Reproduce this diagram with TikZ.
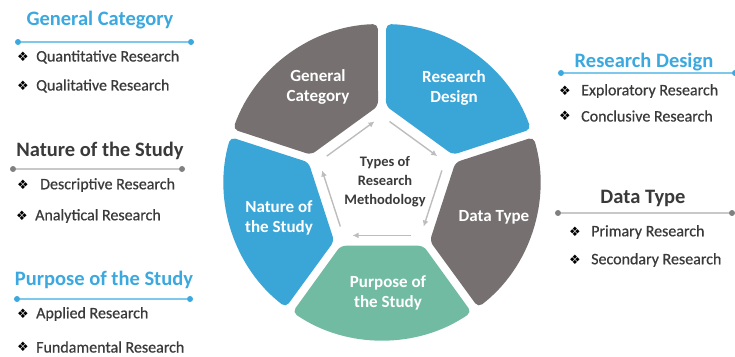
\documentclass[tikz,border=0pt]{standalone}
\usepackage{fontspec}
\setmainfont{Carlito}
\newfontfamily\symfont{DejaVu Sans}
\newfontfamily\itemfont[FakeBold=0.6]{Carlito}
\usetikzlibrary{calc,arrows.meta}
\definecolor{hblue}{HTML}{3BA8DF}
\definecolor{segblue}{HTML}{3AA6D8}
\definecolor{seggray}{HTML}{767070}
\definecolor{seggreen}{HTML}{72BBA3}
\definecolor{darktext}{HTML}{3A3A3A}
\definecolor{lblue}{HTML}{7EC8EC}
\definecolor{lgray}{HTML}{C8C8C8}
\definecolor{dgray}{HTML}{808080}
\definecolor{arrowgray}{HTML}{BDBDBD}
\tikzset{
  heading/.style={inner sep=0pt,font=\fontsize{20.5}{24}\selectfont\bfseries},
  item/.style={inner sep=0pt,anchor=west,text=darktext,font=\fontsize{16}{19}\itemfont},
  bul/.style={inner sep=0pt,text=black,font=\fontsize{13}{14}\symfont},
  seglabel/.style={inner sep=0pt,text=white,align=center,font=\fontsize{17}{20}\selectfont\bfseries},
  centerlabel/.style={inner sep=0pt,text=darktext,align=center,font=\fontsize{14.5}{19}\selectfont\bfseries},
  blueline/.style={draw=lblue,line width=1.2pt},
  grayline/.style={draw=lgray,line width=1.2pt},
  bluedot/.style={circle,fill=hblue,inner sep=0pt,minimum size=6pt},
  graydot/.style={circle,fill=dgray,inner sep=0pt,minimum size=6pt},
  cycarrow/.style={draw=arrowgray,line width=1.4pt,-{Latex[length=6pt,width=6pt]}}
}
\begin{document}
\begin{tikzpicture}[x=1pt,y=-1pt]
\useasboundingbox (0,0) rectangle (735,356);
\coordinate (C) at (382,182);
% wheel segments
\foreach \c/\col/\nm in {126/seggray/sgc,54/segblue/srd,-18/seggray/sdt,-90/seggreen/spu,198/segblue/sns}{
  \fill[\col,rounded corners=5pt]
    ($(C)+({\c+33}:76pt)$) -- ($(C)+({\c+34.5}:158pt)$)
    arc[start angle={\c+34.5},end angle={\c-34.5},radius=158pt]
    -- ($(C)+({\c-33}:76pt)$) -- cycle;
}
% segment labels
\node[seglabel] (lgc) at (318,87) {General\\Category};
\node[seglabel] (lrd) at (454,88) {Research\\Design};
\node[seglabel] (ldt) at (494,217) {Data Type};
\node[seglabel] (lpu) at (388,293) {Purpose of\\the Study};
\node[seglabel] (lns) at (279,218) {Nature of\\the Study};
% centre
\node[centerlabel] (ctr) at (385,182) {Types of\\Research\\Methodology};
\coordinate (v1) at ($(C)+(90:66pt)$);
\coordinate (v2) at ($(C)+(18:66pt)$);
\coordinate (v3) at ($(C)+(-54:66pt)$);
\coordinate (v4) at ($(C)+(-126:66pt)$);
\coordinate (v5) at ($(C)+(162:66pt)$);
\draw[cycarrow] ($(v5)!0.12!(v1)$) -- ($(v5)!0.88!(v1)$);
\draw[cycarrow] ($(v1)!0.12!(v2)$) -- ($(v1)!0.88!(v2)$);
\draw[cycarrow] ($(v2)!0.12!(v3)$) -- ($(v2)!0.88!(v3)$);
\draw[cycarrow] ($(v3)!0.12!(v4)$) -- ($(v3)!0.88!(v4)$);
\draw[cycarrow] ($(v4)!0.12!(v5)$) -- ($(v4)!0.88!(v5)$);
% General Category
\node[heading,text=hblue] (h1) at (100,20) {General Category};
\node[bluedot] (h1a) at (18,42) {};
\node[bluedot] (h1b) at (191,42) {};
\draw[blueline] (h1a) -- (h1b);
\node[bul] (b11) at (23,57) {❖};
\node[item] (i11) at (36,57) {Quantitative Research};
\node[bul] (b12) at (23,86) {❖};
\node[item] (i12) at (36,86) {Qualitative Research};
% Nature of the Study
\node[heading,text=darktext] (h2) at (100,151) {Nature of the Study};
\node[graydot] (h2a) at (13,169) {};
\node[graydot] (h2b) at (182,169) {};
\draw[grayline] (h2a) -- (h2b);
\node[bul] (b21) at (23,185) {❖};
\node[item] (i21) at (40,185) {Descriptive Research};
\node[bul] (b22) at (22,216) {❖};
\node[item] (i22) at (35,216) {Analytical Research};
% Purpose of the Study
\node[heading,text=hblue] (h3) at (104,280) {Purpose of the Study};
\node[bluedot] (h3a) at (17,299) {};
\node[bluedot] (h3b) at (190,299) {};
\draw[blueline] (h3a) -- (h3b);
\node[bul] (b31) at (23,314) {❖};
\node[item] (i31) at (36,314) {Applied Research};
\node[bul] (b32) at (23,347) {❖};
\node[item] (i32) at (36,347) {Fundamental Research};
% Research Design
\node[heading,text=hblue] (h4) at (644,62) {Research Design};
\node[bluedot] (h4a) at (561,73) {};
\node[bluedot] (h4b) at (735,73) {};
\draw[blueline] (h4a) -- (h4b);
\node[bul] (b41) at (565,91) {❖};
\node[item] (i41) at (581,91) {Exploratory Research};
\node[bul] (b42) at (565,116) {❖};
\node[item] (i42) at (581,116) {Conclusive Research};
% Data Type
\node[heading,text=darktext] (h5) at (643,198) {Data Type};
\node[graydot] (h5a) at (558,213) {};
\node[graydot] (h5b) at (732,213) {};
\draw[grayline] (h5a) -- (h5b);
\node[bul] (b51) at (575,232) {❖};
\node[item] (i51) at (591,232) {Primary Research};
\node[bul] (b52) at (575,260) {❖};
\node[item] (i52) at (591,260) {Secondary Research};
\end{tikzpicture}
\end{document}
